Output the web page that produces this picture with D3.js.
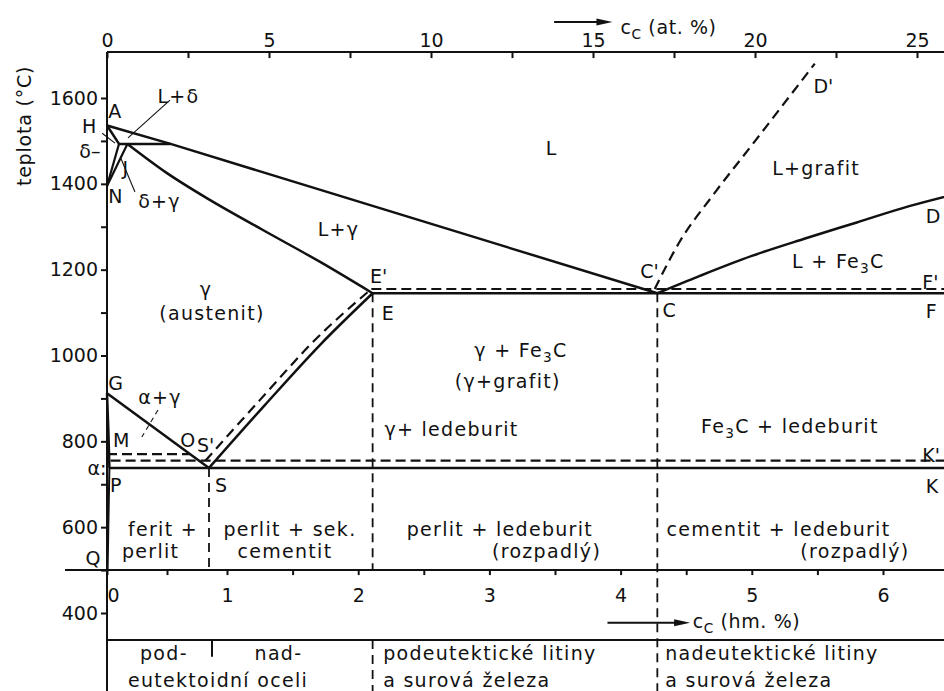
<!DOCTYPE html>
<html><head><meta charset="utf-8">
<script src="https://cdn.jsdelivr.net/npm/d3@7"></script>
<style>
body{margin:0;background:#fff;}
svg text{font-family:"DejaVu Sans",sans-serif;fill:#111;}
</style></head><body>
<svg id="c" width="944" height="691"></svg>
<script>
// ---------- axis ticks ----------
const yTicksAll = d3.range(400, 1601, 100);
const yTicksLabeled = [400, 600, 800, 1000, 1200, 1400, 1600];
const atTicksAll = d3.range(0, 26.1, 2.5);
const atTicksLabeled = [0, 5, 10, 15, 20, 25];
const wtTicksAll = d3.range(0, 6.51, 0.5);
const wtTicksLabeled = [0, 1, 2, 3, 4, 5, 6];

// ---------- phase boundaries (wt.% C, °C) ----------
const liquidusAC = [[0, 1536], [0.53, 1493], [4.28, 1145]];
const deltaSolidusAH = [[0, 1536], [0.1, 1493]];
const peritecticHJB = [[0.1, 1493], [0.53, 1493]];
const deltaSolvusHN = [[0.1, 1493], [0, 1395]];
const gammaBoundaryJN = [[0.17, 1493], [0, 1395]];
const gammaSolidusJE = [[0.17, 1493], [0.5, 1425], [0.86, 1362], [1.27, 1293], [1.71, 1218], [2.11, 1145]];
const liquidusCD = [[4.28, 1145], [4.6, 1185], [5.0, 1232], [5.4, 1272], [5.8, 1310], [6.2, 1348], [6.67, 1385]];
const liquidusGraphiteCD = [[4.26, 1155], [4.45, 1265], [4.7, 1372], [5.0, 1490], [5.48, 1680]];
const eutecticECF = [[2.11, 1145], [6.67, 1145]];
const eutecticStable = [[2.10, 1155], [6.67, 1155]];
const solvusES = [[0.85, 738], [1.29, 885], [1.71, 1025], [2.11, 1145]];
const solvusStable = [[0.82, 755], [1.25, 896], [1.67, 1036], [2.10, 1155]];
const lineGS = [[0, 912], [0.85, 738]];
const lineGP = [[0, 912], [0.012, 820], [0.02, 738]];
const linePQ = [[0.02, 738], [0.012, 620], [0.005, 500]];
const curieMO = [[0, 770], [0.69, 770]];
const eutectoidPSK = [[0.02, 738], [6.67, 738]];
const eutectoidStable = [[0.03, 755], [6.67, 755]];
const verticalsDashed = [
  [[0.85, 738], [0.85, 500]],
  [[2.11, 1145], [2.11, 500]],
  [[2.11, 337], [2.11, 200]],
  [[4.28, 1145], [4.28, 200]]
];
const tableTop = [[0, 337], [6.67, 337]];
const tableMarkS = [[0.875, 335], [0.875, 298]];
const wtAxisLine = [[-0.35, 500], [6.67, 500]];
const leaders = [
  {p: [[0.525, 1595], [0.175, 1507]], dash: false},
  {p: [[-0.04, 1518], [0.067, 1495]], dash: false},
  {p: [[0.11, 1463], [0.233, 1381]], dash: false},
  {p: [[0.425, 873], [0.29, 810]], dash: true}
];

// ---------- labels (text, wt.% C, °C, anchor) ----------
const labels = [
  ["L", 3.47, 1467, "middle"],
  ["L+grafit", 5.49, 1421, "middle"],
  ["L+γ", 1.85, 1278, "middle"],
  ["L + Fe_3C", 5.66, 1204, "middle"],
  ["γ", 0.82, 1139, "middle"],
  ["(austenit)", 0.875, 1083, "middle"],
  ["E'", 2.09, 1169, "start"],
  ["E", 2.18, 1083, "start"],
  ["C'", 4.15, 1181, "start"],
  ["C", 4.32, 1090, "start"],
  ["γ + Fe_3C", 3.24, 997, "middle"],
  ["(γ+grafit)", 3.14, 924, "middle"],
  ["γ+ ledeburit", 2.20, 812, "start"],
  ["Fe_3C + ledeburit", 5.29, 819, "middle"],
  ["D", 6.325, 1309, "start"],
  ["F'", 6.30, 1155, "start"],
  ["F", 6.325, 1087, "start"],
  ["K'", 6.30, 752, "start"],
  ["K", 6.325, 680, "start"],
  ["D'", 5.47, 1612, "start"],
  ["G", 0.01, 920, "start"],
  ["α+γ", 0.26, 887, "start"],
  ["M", 0.05, 787, "start"],
  ["O", 0.61, 787, "start"],
  ["S'", 0.75, 775, "start"],
  ["P", 0.025, 682, "start"],
  ["S", 0.9, 682, "start"],
  ["α:", -0.005, 722, "end"],
  ["A", 0.01, 1553, "start"],
  ["H", -0.09, 1518, "end"],
  ["δ–", -0.055, 1460, "end"],
  ["N", 0.01, 1355, "start"],
  ["J", 0.13, 1421, "start"],
  ["L+δ", 0.42, 1588, "start"],
  ["δ+γ", 0.26, 1344, "start"],
  ["ferit +", 0.175, 579, "start"],
  ["perlit", 0.125, 528, "start"],
  ["perlit + sek.", 0.97, 579, "start"],
  ["cementit", 1.08, 528, "start"],
  ["perlit + ledeburit", 2.37, 579, "start"],
  ["(rozpadlý)", 3.02, 528, "start"],
  ["cementit + ledeburit", 4.35, 579, "start"],
  ["(rozpadlý)", 5.37, 528, "start"],
  ["Q", -0.18, 512, "start"],
  ["pod-", 0.275, 291, "start"],
  ["nad-", 1.21, 291, "start"],
  ["eutektoidní oceli", 0.175, 228, "start"],
  ["podeutektické litiny", 2.19, 291, "start"],
  ["a surová železa", 2.19, 228, "start"],
  ["nadeutektické litiny", 4.34, 291, "start"],
  ["a surová železa", 4.34, 228, "start"]
];

// ---------- scales ----------
const x = d3.scaleLinear().domain([0, 1, 6]).range([107, 227, 883]);
const xAt = d3.scaleLinear().domain([0, 25]).range([107, 917]);
const y = d3.scaleLinear().domain([400, 1600]).range([613, 98]);
const T_TOP = 1707, T_BOTTOM = 180;

const svg = d3.select("#c");
const ink = "#111";
const line = d3.line().x(d => x(d[0])).y(d => y(d[1]));
const curveMono = d3.line().x(d => x(d[0])).y(d => y(d[1])).curve(d3.curveMonotoneX);
const curveFree = d3.line().x(d => x(d[0])).y(d => y(d[1])).curve(d3.curveBasis);

function path(data, opts = {}) {
  const gen = opts.curve === "mono" ? curveMono : opts.curve === "free" ? curveFree : line;
  svg.append("path").attr("d", gen(data))
    .attr("fill", "none").attr("stroke", ink)
    .attr("stroke-width", opts.w || 2.5)
    .attr("stroke-dasharray", opts.dash || null)
    .attr("stroke-linecap", "butt").attr("stroke-linejoin", "round");
}

function addText(s, px, py, anchor, size, ls) {
  const t = svg.append("text").attr("x", px).attr("y", py)
    .attr("text-anchor", anchor || "start").attr("font-size", size)
    .attr("letter-spacing", s.length <= 2 ? 0 : ls);
  const parts = s.split(/(_.)/);
  let sub = false;
  parts.forEach(p => {
    if (!p) return;
    if (p[0] === "_" && p.length === 2) {
      t.append("tspan").attr("dy", 5).attr("font-size", size * 0.72).text(p[1]);
      sub = true;
    } else {
      t.append("tspan").attr("dy", sub ? -5 : 0).text(p);
      sub = false;
    }
  });
  return t;
}

// ---------- axes ----------
svg.append("line").attr("x1", x(0)).attr("x2", x(0)).attr("y1", y(T_TOP)).attr("y2", y(T_BOTTOM))
  .attr("stroke", ink).attr("stroke-width", 2);
const gy = svg.append("g").attr("transform", `translate(${x(0)},0)`)
  .call(d3.axisLeft(y).tickValues(yTicksAll).tickSize(6).tickPadding(3)
    .tickFormat(d => yTicksLabeled.includes(d) ? d : ""));
gy.select(".domain").remove();
gy.selectAll("line").attr("stroke", ink).attr("stroke-width", 2);
gy.selectAll("text").attr("font-size", 19).attr("font-family", "DejaVu Sans").attr("fill", ink);

svg.append("line").attr("x1", xAt(0)).attr("x2", 960).attr("y1", y(T_TOP)).attr("y2", y(T_TOP))
  .attr("stroke", ink).attr("stroke-width", 2);
const gt = svg.append("g").attr("transform", `translate(0,${y(T_TOP)})`)
  .call(d3.axisTop(xAt).tickValues(atTicksAll).tickSize(-6).tickPadding(5)
    .tickFormat(d => atTicksLabeled.includes(d) ? d : ""));
gt.select(".domain").remove();
gt.selectAll("line").attr("stroke", ink).attr("stroke-width", 2);
gt.selectAll("text").attr("font-size", 19).attr("font-family", "DejaVu Sans").attr("fill", ink);

path(wtAxisLine, {w: 2});
const gb = svg.append("g").attr("transform", `translate(0,${y(500)})`)
  .call(d3.axisBottom(x).tickValues(wtTicksAll).tickSize(5).tickPadding(13)
    .tickFormat(d => wtTicksLabeled.includes(d) ? d : ""));
gb.select(".domain").remove();
gb.selectAll("line").attr("stroke", ink).attr("stroke-width", 2);
gb.selectAll("text").attr("font-size", 19).attr("font-family", "DejaVu Sans").attr("fill", ink)
  .attr("dx", d => d === 0 ? 6 : 0);

addText("teplota (°C)", 0, 0, "middle", 19, 0.8)
  .attr("transform", `translate(31,${y(1535)}) rotate(-90)`);
function arrow(x1, x2, yy) {
  svg.append("line").attr("x1", x1).attr("x2", x2 - 12).attr("y1", yy).attr("y2", yy)
    .attr("stroke", ink).attr("stroke-width", 2);
  svg.append("path").attr("d", `M${x2},${yy} L${x2 - 16},${yy - 3.5} L${x2 - 16},${yy + 3.5} Z`).attr("fill", ink);
}
arrow(xAt(13.8), xAt(15.6), y(1777));
addText("c_C (at.  %)", xAt(15.85), y(1749), "start", 19, 0.6);
arrow(x(3.9), x(4.53), y(377));
addText("c_C (hm. %)", x(4.55), y(365), "start", 19, 0.6);

// ---------- table ----------
path(tableTop, {w: 2});
path(tableMarkS, {w: 2});

// ---------- phase lines ----------
path(liquidusAC);
path(deltaSolidusAH);
path(peritecticHJB);
path(deltaSolvusHN, {w: 2.2});
path(gammaBoundaryJN, {w: 2.2});
path(gammaSolidusJE, {curve: "mono"});
path(liquidusCD, {curve: "mono"});
path(liquidusGraphiteCD, {curve: "mono", dash: "10,6", w: 2.2});
path(eutecticECF);
path(eutecticStable, {dash: "10,5", w: 2.2});
path(solvusES, {curve: "mono"});
path(solvusStable, {curve: "mono", dash: "10,6", w: 2.2});
path(lineGS);
path(lineGP, {curve: "mono"});
path(linePQ, {curve: "free", w: 2});
path(curieMO, {dash: "10,5", w: 2.2});
path(eutectoidPSK);
path(eutectoidStable, {dash: "10,5", w: 2.2});
verticalsDashed.forEach(v => path(v, {dash: "9,6", w: 1.8}));
leaders.forEach(l => path(l.p, {w: 1.1, dash: l.dash ? "5,4" : null}));

// ---------- labels ----------
labels.forEach(([t, w, T, a]) => addText(t, x(w), y(T), a, 19, 1.3));
</script>
</body></html>
